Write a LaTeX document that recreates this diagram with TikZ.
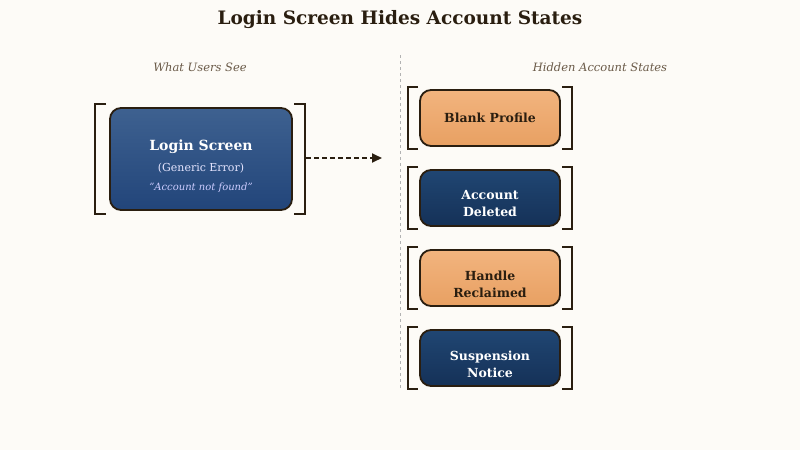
\documentclass[tikz,border=0pt]{standalone}
\usepackage{fontspec}
\setmainfont{DejaVu Serif}
\usetikzlibrary{arrows.meta}
\definecolor{bg}{HTML}{FDFBF7}
\definecolor{ink}{HTML}{2A1E10}
\definecolor{otop}{HTML}{F2B47E}
\definecolor{obot}{HTML}{E8A062}
\definecolor{ntop}{HTML}{204673}
\definecolor{nbot}{HTML}{153157}
\definecolor{ltop}{HTML}{3E6190}
\definecolor{lbot}{HTML}{22457A}
\definecolor{lab}{HTML}{6A5A48}
\begin{document}
\begin{tikzpicture}[x=1pt,y=-1pt,
  box/.style={draw=ink,line width=1.8pt,rounded corners=11pt,align=center,inner sep=0pt},
  orange/.style={box,top color=otop,bottom color=obot},
  navy/.style={box,top color=ntop,bottom color=nbot},
  otxt/.style={align=center,text=ink,font=\bfseries\fontsize{12.5}{17}\selectfont},
  ntxt/.style={align=center,text=white,font=\bfseries\fontsize{12.5}{17}\selectfont},
  brk/.style={draw=ink,line width=1.6pt},
  lbl/.style={text=lab,font=\itshape\fontsize{11.5}{13}\selectfont}]
\useasboundingbox[fill=bg] (0,0) rectangle (800,450);
\node[font=\bfseries\fontsize{18.5}{21}\selectfont,text=ink] (title) at (400,20) {Login Screen Hides Account States};
\node[lbl] (l1) at (200,67) {What Users See};
\node[lbl] (l2) at (600,67) {Hidden Account States};
\coordinate (d1) at (400,55); \coordinate (d2) at (400,390);
\draw[gray!60,dashed,line width=1pt] (d1) -- (d2);
\node[box,top color=ltop,bottom color=lbot,minimum width=182pt,minimum height=102pt] (login) at (201,159) {};
\node[text=white,font=\bfseries\fontsize{14}{16}\selectfont] (t1) at (201,147) {Login Screen};
\node[text=white!90!blue,font=\fontsize{11}{13}\selectfont] (t2) at (201,168) {(Generic Error)};
\node[text=blue!20!white,font=\itshape\fontsize{10}{12}\selectfont] (t3) at (201,188) {"Account not found"};
\draw[brk] (106,104) -- (95,104) -- (95,214) -- (106,214);
\draw[brk] (294,104) -- (305,104) -- (305,214) -- (294,214);
\coordinate (ae) at (382,158);
\draw[ink,line width=1.8pt,dash pattern=on 5pt off 3pt,-{Triangle[length=10pt,width=9pt]}] (306,158) -- (ae);
\foreach \y/\s/\n in {118/orange/a,198/navy/b,278/orange/c,358/navy/d}{
  \node[\s,minimum width=140pt,minimum height=56pt] (\n) at (490,\y) {};
  \draw[brk] (418,\y-31) -- (408,\y-31) -- (408,\y+31) -- (418,\y+31);
  \draw[brk] (562,\y-31) -- (572,\y-31) -- (572,\y+31) -- (562,\y+31);
}
\node[otxt] (ta) at (490,118) {Blank Profile};
\node[ntxt] (tb) at (490,204) {Account\\Deleted};
\node[otxt] (tc) at (490,284) {Handle\\Reclaimed};
\node[ntxt] (td) at (490,364) {Suspension\\Notice};
\end{tikzpicture}
\end{document}
